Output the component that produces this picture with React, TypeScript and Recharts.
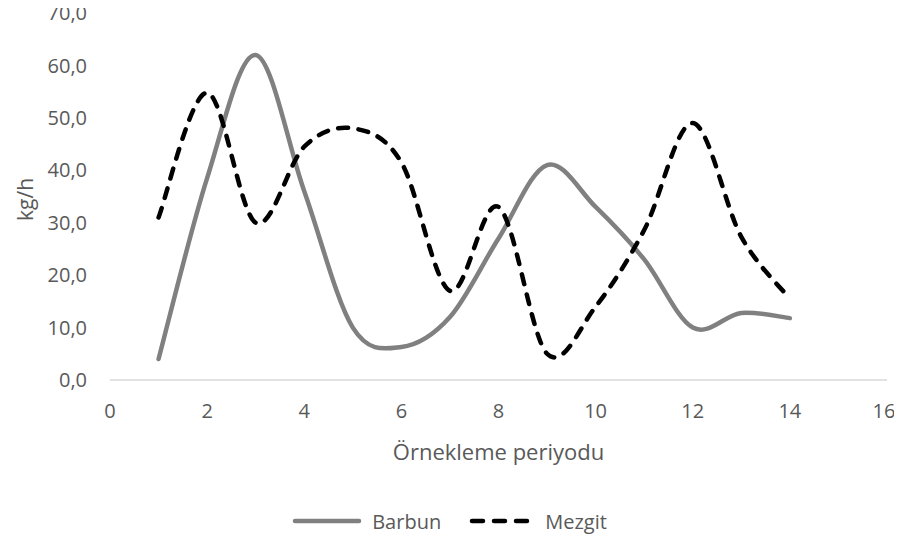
import React from "react";
import { LineChart, Line, XAxis, YAxis, Legend } from "recharts";

const periods = [1, 2, 3, 4, 5, 6, 7, 8, 9, 10, 11, 12, 13, 14];
const barbun = [4.0, 38.5, 62.0, 36.0, 10.0, 6.3, 12.0, 27.0, 41.0, 33.0, 23.0, 10.0, 12.8, 11.8];
const mezgit = [31.0, 54.8, 30.0, 44.5, 48.0, 41.5, 17.0, 33.0, 5.0, 14.0, 28.6, 49.0, 27.3, 15.5];
const xTicks = [0, 2, 4, 6, 8, 10, 12, 14, 16];
const yTicks = [0, 10, 20, 30, 40, 50, 60, 70];

const data = periods.map((p, i) => ({ x: p, barbun: barbun[i], mezgit: mezgit[i] }));

const FONT = "'Open Sans', sans-serif";
const TEXT = "#595959";

// Excel style smoothed line (catmull-rom like bezier)
function excelSmooth(context: any) {
  let pts: number[][] = [];
  return {
    areaStart() {},
    areaEnd() {},
    lineStart() {
      pts = [];
    },
    point(x: number, y: number) {
      pts.push([+x, +y]);
    },
    lineEnd() {
      if (!pts.length) return;
      context.moveTo(pts[0][0], pts[0][1]);
      const t = 1 / 6;
      for (let i = 0; i < pts.length - 1; i++) {
        const p0 = pts[i - 1] || pts[i];
        const p1 = pts[i];
        const p2 = pts[i + 1];
        const p3 = pts[i + 2] || p2;
        context.bezierCurveTo(
          p1[0] + (p2[0] - p0[0]) * t,
          p1[1] + (p2[1] - p0[1]) * t,
          p2[0] - (p3[0] - p1[0]) * t,
          p2[1] - (p3[1] - p1[1]) * t,
          p2[0],
          p2[1]
        );
      }
    },
  };
}

const YLabel = (props: any) => {
  const vb = props.viewBox || { x: 0, y: 0, width: 0, height: 0 };
  const cx = 17;
  const cy = vb.y + vb.height / 2 + 3;
  return (
    <text
      x={cx}
      y={cy}
      transform={`rotate(-90 ${cx} ${cy})`}
      textAnchor="middle"
      dominantBaseline="central"
      fill={TEXT}
      fontFamily={FONT}
      fontSize={21}
    >
      kg/h
    </text>
  );
};

const XLabel = (props: any) => {
  const vb = props.viewBox || { x: 0, y: 0, width: 0, height: 0 };
  return (
    <text
      x={vb.x + vb.width / 2}
      y={vb.y + 71}
      textAnchor="middle"
      dominantBaseline="central"
      fill={TEXT}
      fontFamily={FONT}
      fontSize={22}
    >
      Örnekleme periyodu
    </text>
  );
};

const LegendContent = () => (
  <div
    style={{
      height: 50,
      display: "flex",
      justifyContent: "center",
      alignItems: "center",
      paddingTop: 16,
      boxSizing: "border-box",
      fontFamily: FONT,
      fontSize: 20,
      color: TEXT,
      marginLeft: 4,
    }}
  >
    <svg width={70} height={10} style={{ marginRight: 10 }}>
      <line x1={3} y1={5} x2={67} y2={5} stroke="#808080" strokeWidth={4.5} strokeLinecap="round" />
    </svg>
    <span style={{ marginRight: 28 }}>Barbun</span>
    <svg width={66} height={10} style={{ marginRight: 10 }}>
      <line
        x1={3}
        y1={5}
        x2={64}
        y2={5}
        stroke="#000"
        strokeWidth={4.5}
        strokeLinecap="round"
        strokeDasharray="11 11"
      />
    </svg>
    <span>Mezgit</span>
  </div>
);

export default function App() {
  return (
    <div style={{ width: 886, height: 538, marginTop: -8 }}>
      <LineChart width={886} height={538} data={data} margin={{ top: 13, right: 7, left: 0, bottom: 0 }}>
        <XAxis
          dataKey="x"
          type="number"
          domain={[0, 16]}
          ticks={xTicks}
          tickLine={false}
          tickSize={0}
          tickMargin={24}
          height={108}
          stroke="#d9d9d9"
          strokeWidth={1.5}
          tick={{ fill: TEXT, fontSize: 20, fontFamily: FONT }}
          label={<XLabel />}
        />
        <YAxis
          type="number"
          domain={[0, 70]}
          ticks={yTicks}
          width={102}
          axisLine={false}
          tickLine={false}
          tickSize={0}
          tickMargin={23}
          tickFormatter={(v) => v.toFixed(1).replace(".", ",")}
          tick={{ fill: TEXT, fontSize: 20, fontFamily: FONT }}
          label={<YLabel />}
        />
        <Legend verticalAlign="bottom" height={50} content={<LegendContent />} />
        <Line
          dataKey="barbun"
          name="Barbun"
          type={excelSmooth as any}
          stroke="#808080"
          strokeWidth={4.5}
          strokeLinecap="round"
          dot={false}
          activeDot={false}
          isAnimationActive={false}
        />
        <Line
          dataKey="mezgit"
          name="Mezgit"
          type={excelSmooth as any}
          stroke="#000000"
          strokeWidth={4.5}
          strokeLinecap="round"
          strokeDasharray="10 10.5"
          dot={false}
          activeDot={false}
          isAnimationActive={false}
        />
      </LineChart>
    </div>
  );
}
